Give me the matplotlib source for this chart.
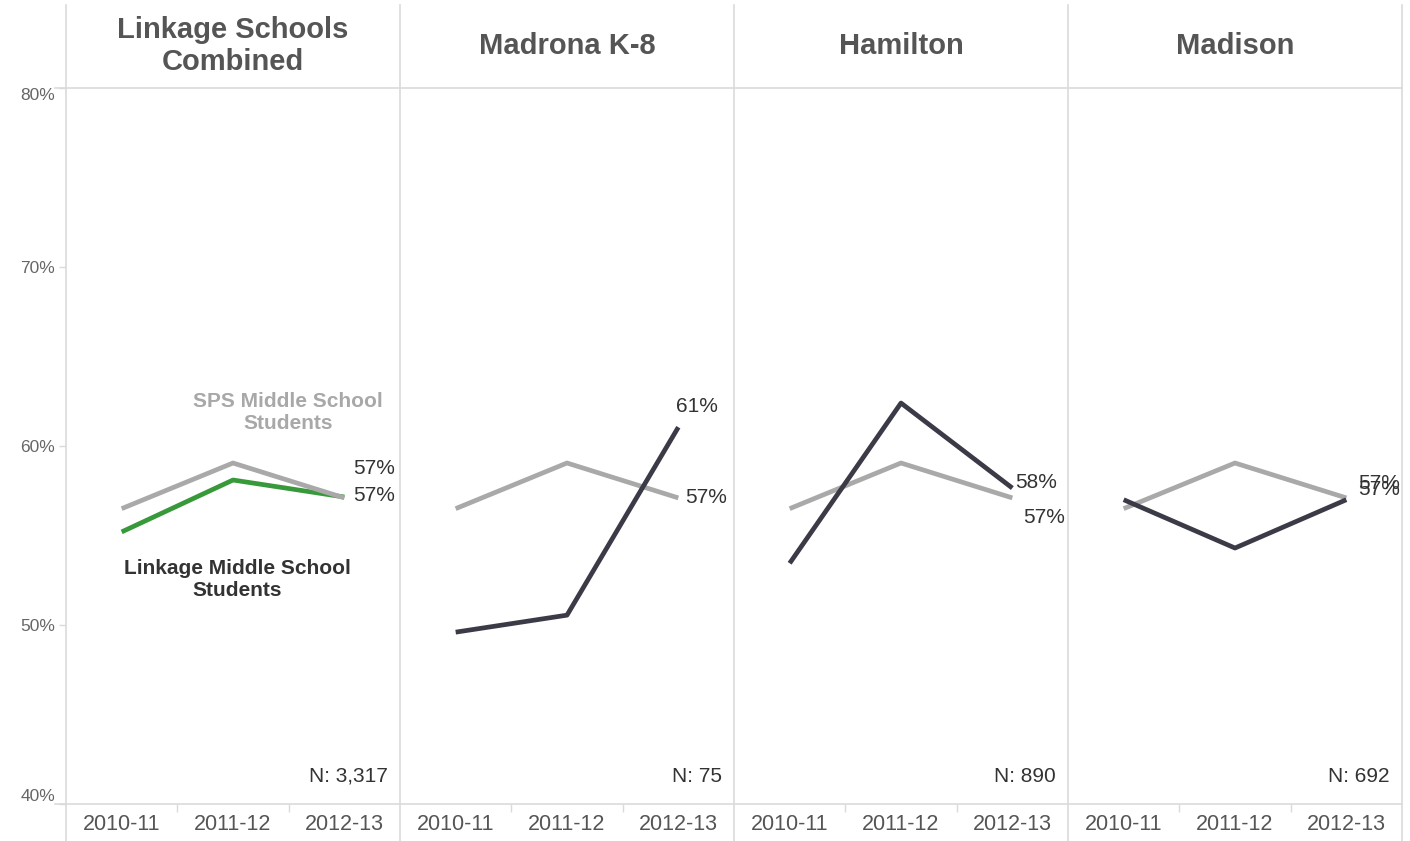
import matplotlib
matplotlib.use("Agg")
import matplotlib.pyplot as plt
from matplotlib.lines import Line2D

plt.rcParams['font.family'] = ['Liberation Sans', 'DejaVu Sans']

# ---- data ----
years = ['2010-11', '2011-12', '2012-13']
panel_titles = ['Linkage Schools\nCombined', 'Madrona K-8', 'Hamilton', 'Madison']
sps_values = [56.5, 59.05, 57.1]
linkage_values = [55.2, 58.1, 57.15]
madrona_values = [49.6, 50.55, 61.05]
hamilton_values = [53.45, 62.4, 57.65]
madison_values = [57.0, 54.3, 57.0]
school_series = [linkage_values, madrona_values, hamilton_values, madison_values]
n_labels = ['N: 3,317', 'N: 75', 'N: 890', 'N: 692']
y_ticks = [40, 50, 60, 70, 80]
y_tick_labels = ['40%', '50%', '60%', '70%', '80%']

W, H = 1410, 841
fig = plt.figure(figsize=(W / 100, H / 100), dpi=100)
fig.patch.set_facecolor('white')

GRID = '#dadada'
SPS_C = '#a9a9a9'
GREEN = '#38993a'
DARK = '#3b3b47'
TXT = '#333333'

left0, pw = 66, 334
top_px, bot_px = 88, 804

def fx(px):
    return px / W

def fy(py):
    return 1 - py / H

# end-label offsets in points: (sps, school)
sps_off = [(6.5, 21), (5, 0), (8, -14), (8.5, 10.5)]
sch_off = [(6, 1), (-1.5, 8), (2, 4), (8.5, 7)]
sch_va = ['center', 'bottom', 'center', 'center']

x = list(range(len(years)))
for i in range(4):
    l = left0 + pw * i
    ax = fig.add_axes([fx(l), fy(bot_px), fx(pw), (bot_px - top_px) / H])
    ax.set_xlim(-0.5, 2.5)
    ax.set_ylim(40, 80)
    for s in ax.spines.values():
        s.set_visible(False)
    ax.set_facecolor('none')
    school_color = GREEN if i == 0 else DARK
    if i == 0:
        ax.plot(x, school_series[i], color=school_color, lw=3.4, solid_capstyle='butt', zorder=3)
        ax.plot(x, sps_values, color=SPS_C, lw=3.4, solid_capstyle='butt', zorder=4)
    else:
        ax.plot(x, sps_values, color=SPS_C, lw=3.4, solid_capstyle='butt', zorder=3)
        ax.plot(x, school_series[i], color=school_color, lw=3.4, solid_capstyle='butt', zorder=4)

    ax.annotate(f"{round(sps_values[-1]):.0f}%", (x[-1], sps_values[-1]), xytext=sps_off[i],
                textcoords='offset points', ha='left', va='center', fontsize=15, color=TXT)
    ax.annotate(f"{round(school_series[i][-1]):.0f}%", (x[-1], school_series[i][-1]), xytext=sch_off[i],
                textcoords='offset points', ha='left', va=sch_va[i], fontsize=15, color=TXT)

    ax.text(1 - 12 / pw, 28 / (bot_px - top_px), n_labels[i], transform=ax.transAxes,
            ha='right', va='center', fontsize=15, color=TXT)

    ax.set_xticks(x)
    ax.set_xticklabels(years, fontsize=15.5, color='#555555')
    ax.tick_params(axis='x', length=0, pad=7)
    ax.set_xticks([0.5, 1.5], minor=True)
    ax.tick_params(axis='x', which='minor', length=6, color=GRID, width=1)

    if i == 0:
        ax.set_yticks(y_ticks)
        ax.set_yticklabels(y_tick_labels, fontsize=12.5, color='#666666')
        ax.tick_params(axis='y', length=5, color=GRID, width=1, pad=3)
        labels = ax.get_yticklabels()
        labels[0].set_va('bottom')
        labels[-1].set_va('top')
        ax.text(0.665, 0.547, 'SPS Middle School\nStudents', transform=ax.transAxes,
                ha='center', va='center', fontsize=15, fontweight='bold', color='#a8a8a8',
                linespacing=1.2)
        ax.text(0.512, 0.313, 'Linkage Middle School\nStudents', transform=ax.transAxes,
                ha='center', va='center', fontsize=15, fontweight='bold', color=TXT,
                linespacing=1.2)
    else:
        ax.set_yticks([])

    fig.text(fx(l + pw / 2), fy(46), panel_titles[i], ha='center', va='center',
             fontsize=21, fontweight='bold', color='#555555', linespacing=1.22)

# frame lines
for i in range(5):
    xp = left0 + pw * i
    fig.add_artist(Line2D([fx(xp), fx(xp)], [fy(5), fy(H)], color=GRID, lw=1.2))
for yp in (top_px, bot_px):
    fig.add_artist(Line2D([fx(55), fx(left0 + 4 * pw)], [fy(yp), fy(yp)], color=GRID, lw=1.2))

fig.savefig('out.png', dpi=100, facecolor='white')
